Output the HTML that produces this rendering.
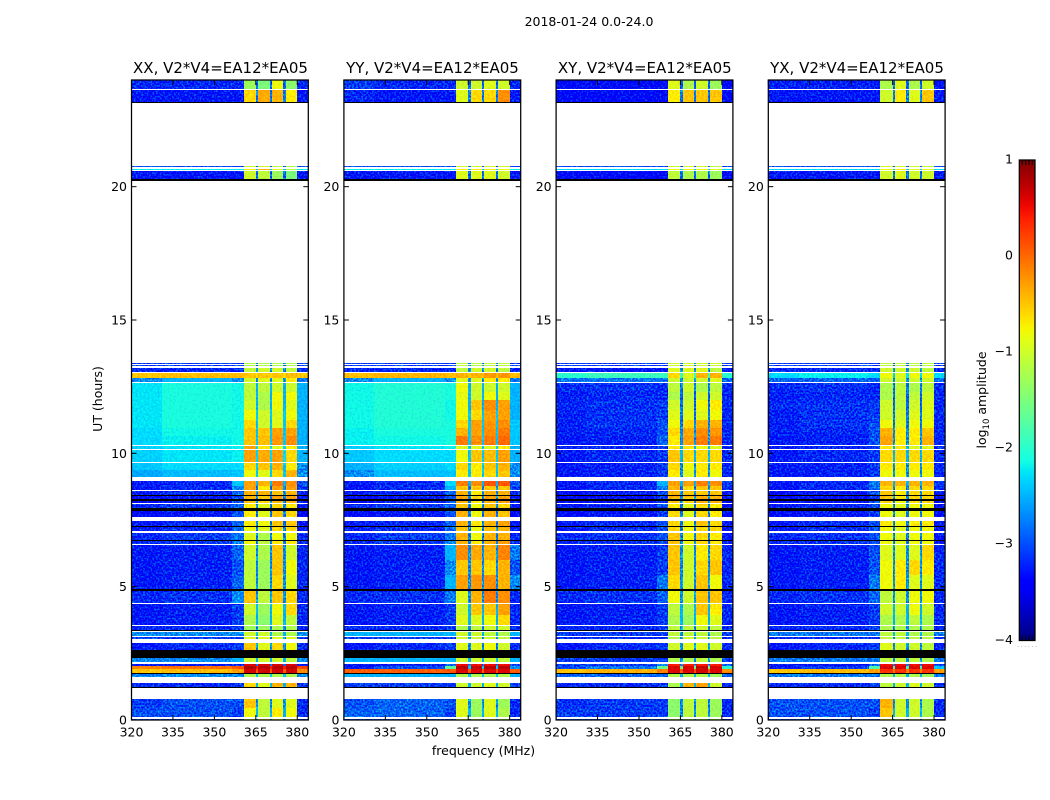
<!DOCTYPE html>
<html lang="en">
<head>
<meta charset="utf-8">
<title>2018-01-24 0.0-24.0</title>
<style>
html,body{margin:0;padding:0;background:#fff;}
svg{display:block;}
text{font-family:"DejaVu Sans","Liberation Sans",sans-serif;fill:#000;}
</style>
</head>
<body>
<svg id="fig" xmlns="http://www.w3.org/2000/svg" width="1050" height="800" viewBox="0 0 1050 800">
  <defs>
    <filter id="speckle" x="0" y="0" width="100%" height="100%" color-interpolation-filters="sRGB">
      <feTurbulence type="fractalNoise" baseFrequency="0.55" numOctaves="1" seed="7" result="t"/>
      <feColorMatrix in="t" type="matrix" values="0 0 0 0 0.5  3 0 0 0 -1.15  0 0 1.2 0 -0.1  0 0 0 0 1" result="n"/>
      <feComposite in="SourceGraphic" in2="n" operator="arithmetic" k1="0" k2="1" k3="0.55" k4="-0.275" result="c"/>
      <feComposite in="c" in2="SourceAlpha" operator="in"/>
    </filter>
    <filter id="softSpeckle" x="0" y="0" width="100%" height="100%" color-interpolation-filters="sRGB">
      <feTurbulence type="fractalNoise" baseFrequency="0.5" numOctaves="1" seed="3" result="t"/>
      <feColorMatrix in="t" type="matrix" values="0 0 0 0 0.5  3 0 0 0 -1  0 0 0 0 0.5  0 0 0 0 1" result="n"/>
      <feComposite in="SourceGraphic" in2="n" operator="arithmetic" k1="0" k2="1" k3="0.16" k4="-0.08" result="c"/>
      <feComposite in="c" in2="SourceAlpha" operator="in"/>
    </filter>
    <linearGradient id="jetGradient" x1="0" y1="1" x2="0" y2="0"></linearGradient>
  </defs>
  <text x="589" y="26" font-size="12.5" text-anchor="middle">2018-01-24 0.0-24.0</text>

  <g id="panel-xx"></g>
  <g id="panel-yy"></g>
  <g id="panel-xy"></g>
  <g id="panel-yx"></g>

  <text x="220.5" y="73" font-size="15" text-anchor="middle">XX, V2*V4=EA12*EA05</text>
  <text x="432.5" y="73" font-size="15" text-anchor="middle">YY, V2*V4=EA12*EA05</text>
  <text x="644.8" y="73" font-size="15" text-anchor="middle">XY, V2*V4=EA12*EA05</text>
  <text x="857" y="73" font-size="15" text-anchor="middle">YX, V2*V4=EA12*EA05</text>

  <text x="483.5" y="755" font-size="12.5" text-anchor="middle">frequency (MHz)</text>
  <text font-size="12.5" text-anchor="middle" transform="translate(102,399) rotate(-90)">UT (hours)</text>
  <text font-size="12.5" text-anchor="middle" transform="translate(986,400) rotate(-90)">log<tspan font-size="8.5" dy="3">10</tspan><tspan dy="-3"> amplitude</tspan></text>

  <g id="colorbar"></g>
  <text x="1017" y="647" font-size="6" letter-spacing="1.7" style="fill:#888">......</text>
</svg>

<script>
// ---- axis ticks ----
const xTicks = [320, 335, 350, 365, 380];
const yTicks = [0, 5, 10, 15, 20];
const colorbarTicks = [1, 0, -1, -2, -3, -4];

// ---- frequency column edges (MHz): left bg, mid bg, edge, band 1, notch, band 2, notch, band 3, notch, band 4, right bg ----
const freqEdges = [320, 331, 356.5, 360.6, 365, 365.9, 370, 370.8, 375, 375.8, 380, 384];

// ---- UT row edges (hours, top to bottom) ----
const utEdges = [24,23.681,23.625,23.175,23.119,20.775,20.719,20.681,20.625,20.569,20.306,20.269,20.213,
 13.376,13.339,13.301,13.264,13.2,13.039,13.001,12.836,12.686,12.638,12.3,12,11.625,11.25,10.95,10.65,10.313,
 10.264,10.163,10.125,9.664,9.626,9.375,9.124,8.963,8.775,8.625,8.576,8.453,8.415,8.269,8.231,8.149,8.1,
 7.939,7.838,7.624,7.463,7.275,7.238,7.106,7.001,6.75,6.713,6.6,6.563,6,5.438,4.92,4.84,4.399,4.361,3.938,
 3.563,3.525,3.375,3.326,3.289,3.15,3.113,3.049,2.899,2.625,2.325,2.164,2.1,2.025,1.894,1.751,1.714,1.624,
 1.388,1.226,1.189,0.799,0.45,0.113,0.038,0];

// d = data row, w = no data, k = flagged (black)
const rowKinds = "dwdkwdwdwdwkwdwdwdwddwdddddddwdwdwddwddwdkdkdwdkdwdkdwdkdwdddkdwddwdkwdwdwdkdwdddkdwdkwddwd".split("");

// ---- log10 amplitude for each data row ----
// columns: left bg, mid bg, edge, band1, band2, band3, band4, right bg, notch
const xxValues = [
[-3.1,-3.1,-3.1,-1.3,-1.5,-.8,-1.4,-3.1,-2.8],
[-3.2,-3.2,-3.2,-.6,-.35,-.4,-.7,-3.2,-2.7],
[-2.9,-2.9,-2.9,-1,-1,-1.1,-1.2,-2.9,-2.8],
[-2.2,-2.2,-2.2,-.7,-.4,-.9,-1.1,-2.2,-2.4],
[-3.2,-3.2,-3.2,-1,-1.1,-1.3,-1.5,-3.2,-2.8],
[-3,-3,-3,-1.2,-1.2,-1.2,-1.2,-3,-2.7],
[-3,-3,-3,-1.2,-1.2,-1.2,-1.2,-3,-2.7],
[-3.1,-3.1,-3.1,-1.1,-1,-1,-1.1,-3.1,-2.6],
[-.5,-.45,-.45,-.5,-.5,-.5,-.45,-.5,-.6],
[-2.6,-2.5,-2.6,-1,-.9,-.9,-.7,-2.7,-2.6],
[-2.25,-2.1,-2.15,-1.1,-1.1,-1,-1,-2.5,-2.5],
[-2.25,-2.1,-2.15,-1.1,-1.2,-.8,-.8,-2.5,-2.5],
[-2.25,-2.1,-2.15,-1,-1.2,-.8,-.9,-2.5,-2.5],
[-2.25,-2.1,-2.15,-.8,-1,-.9,-.8,-2.5,-2.4],
[-2.25,-2.1,-2.15,-.6,-1,-.9,-.6,-2.5,-2.4],
[-2.3,-2.15,-2.15,-.5,-.5,-.3,-.3,-2.5,-2.4],
[-2.3,-2.2,-2.15,-.5,-.45,-.25,-.2,-2.5,-2.4],
[-2.35,-2.25,-2.2,-.3,-.7,-.9,-.7,-2.5,-2.3],
[-2.35,-2.25,-2.2,-.3,-.35,-.3,-.6,-2.5,-2.3],
[-2.4,-2.3,-2.3,-.6,-.5,-.4,-.7,-2.6,-2.4],
[-2.55,-2.45,-2.4,-.8,-.9,-.6,-.4,-2.6,-2.4],
[-3.2,-3.1,-2.4,-.3,-.4,-.1,-.2,-2.9,-2.5],
[-3.2,-3.1,-2.6,-.3,-.7,-.3,-.3,-3,-2.7],
[-3.2,-3.1,-2.8,-.4,-.4,-.5,-.4,-3.1,-2.6],
[-3.3,-3.2,-2.9,-.4,-.5,-.3,-.3,-3.2,-2.6],
[-3.3,-3.2,-2.9,-.5,-.6,-.4,-.4,-3.2,-2.6],
[-3.1,-3,-2.8,-.7,-.9,-.6,-.7,-3.2,-2.7],
[-3.3,-3.2,-2.9,-.7,-.9,-.5,-.6,-3.3,-2.7],
[-3.2,-3.1,-2.8,-.7,-.8,-.5,-.5,-3.2,-2.7],
[-3.2,-3.1,-2.8,-.8,-.9,-.6,-.6,-3.2,-2.7],
[-3.1,-3,-2.7,-.9,-1.2,-.8,-.8,-3.1,-2.7],
[-3.1,-3,-2.7,-.8,-1.1,-.7,-.7,-3.1,-2.7],
[-3.2,-3.15,-2.8,-1,-1.2,-.5,-1,-3.1,-2.6],
[-3.2,-3.15,-2.9,-1.1,-1.3,-.5,-.8,-3.1,-2.6],
[-3.2,-3.15,-2.8,-1.1,-1.3,-.6,-.9,-3.1,-2.6],
[-3.1,-3.05,-2.6,-.5,-1.1,-.5,-.6,-3.1,-2.6],
[-3.2,-3.15,-3,-1,-1.3,-.8,-.6,-3.1,-2.5],
[-3.2,-3.15,-3,-1.2,-1.4,-.9,-1.1,-3.1,-2.5],
[-3.1,-3.1,-3,-1.3,-1.3,-1.2,-1.2,-3.1,-2.6],
[-2.6,-2.6,-2.6,-1,-1,-1.2,-1.2,-2.6,-2.5],
[-3,-3,-3,-.9,-.9,-.9,-.9,-3,-2.6],
[-3.2,-3.1,-3,-.5,-.9,-.6,-.8,-3.1,-2.6],
[-2.6,-2.6,-2.5,-1,-1,-1,-1.1,-2.6,-2.5],
[-3.2,-3.2,-3.1,.6,.6,.6,.6,-3.2,-2.7],
[-.15,-.05,.1,.8,.75,.75,.75,.2,.4],
[-.5,-.45,-.3,.65,.65,.65,.65,-.2,.1],
[-2.6,-2.6,-2.6,-1.2,-1.2,-1.2,-1.2,-2.6,-2.4],
[-3.1,-3.1,-3,-.6,-.9,-.4,-.4,-3,-2.5],
[-3,-2.9,-2.9,-.5,-1.1,-.9,-.9,-3.1,-2.6],
[-2.9,-2.9,-3,-.8,-1.1,-.7,-.8,-3.1,-2.5],
[-2.9,-2.9,-2.9,-1,-1,-1,-1,-3,-2.7]
];

const yyValues = [
[-3,-3.1,-3.1,-1,-1,-.9,-1,-3.1,-2.8],
[-3.1,-3.2,-3.2,-.9,-.6,-.6,-.2,-3.2,-2.7],
[-2.9,-2.9,-2.9,-1,-1,-1,-1,-2.9,-2.8],
[-2.2,-2.2,-2.2,-.7,-.7,-.7,-.8,-2.2,-2.4],
[-3.2,-3.2,-3.2,-.9,-.9,-.9,-1,-3.2,-2.8],
[-3,-3,-3,-1.1,-1.1,-1.1,-1.1,-3,-2.7],
[-3,-3,-3,-1.1,-1.1,-1.1,-1.1,-3,-2.7],
[-3.1,-3.1,-3.1,-1.1,-1,-1,-1.1,-3.1,-2.6],
[-.45,-.4,-.45,-.4,-.4,-.25,-.25,-.45,-.5],
[-2.6,-2.5,-2.6,-.9,-.9,-.7,-.7,-2.7,-2.6],
[-2.15,-2.05,-2.1,-.8,-1,-1,-1,-2.5,-2.5],
[-2.15,-2.05,-2.1,-.85,-1,-.8,-.9,-2.5,-2.5],
[-2.15,-2.05,-2.15,-.8,-.5,-.2,-.3,-2.5,-2.5],
[-2.15,-2.05,-2.15,-.8,-.6,-.3,-.3,-2.5,-2.4],
[-2.15,-2.05,-2.1,-.6,-.3,-.25,-.2,-2.4,-2.4],
[-2.2,-2.1,-2.1,-.4,-.3,-.2,-.1,-2.4,-2.4],
[-2.2,-2.15,-2.1,-.1,-.2,-.1,0,-2.4,-2.4],
[-2.35,-2.25,-2.2,-.9,-.9,-.9,-.7,-2.5,-2.4],
[-2.4,-2.3,-2.3,-.8,-.5,-.45,-.3,-2.5,-2.4],
[-2.5,-2.35,-2.3,-.6,-.7,-.5,-.4,-2.6,-2.4],
[-2.6,-2.45,-2.4,-.7,-.7,-.6,-.5,-2.6,-2.4],
[-3.2,-3.1,-2.3,-.1,-.2,.1,.1,-2.9,-2.5],
[-3.2,-3.1,-2.5,-.5,-.5,-.5,-.5,-3,-2.7],
[-3.2,-3.1,-2.8,-.4,-.7,-.4,-.4,-3.1,-2.6],
[-3.3,-3.2,-2.9,-.3,-.6,-.3,-.3,-3.2,-2.6],
[-3.3,-3.2,-2.9,-.4,-.7,-.4,-.3,-3.2,-2.6],
[-3.1,-3,-2.8,-.5,-.8,-.5,-.6,-3.2,-2.7],
[-3.3,-3.2,-2.9,-.4,-.8,-.4,-.5,-3.3,-2.7],
[-3.2,-3.1,-2.8,-.4,-.7,-.4,-.3,-3.2,-2.7],
[-3.2,-3.1,-2.8,-.5,-.8,-.5,-.4,-3.2,-2.7],
[-3.1,-3,-2.7,-.4,-.8,-.4,-.4,-3.1,-2.7],
[-3.1,-3,-2.6,-.4,-.7,-.4,-.3,-3.1,-2.7],
[-3.2,-3.15,-2.5,-.2,-.35,-.4,-.15,-2.7,-2.6],
[-3.2,-3.15,-2.6,-.5,-.5,-.6,-.4,-2.9,-2.6],
[-3.2,-3.15,-2.5,-.3,-.25,-.2,-.4,-2.6,-2.6],
[-3.1,-3.05,-2.7,-.9,-.4,-.1,-.2,-3.1,-2.6],
[-3.2,-3.15,-3,-1,-.5,-.5,-.3,-3.1,-2.5],
[-3.2,-3.15,-3,-.9,-.9,-.8,-.6,-3.1,-2.5],
[-3.1,-3.1,-3,-1.2,-1.1,-1,-1,-3.1,-2.6],
[-2.5,-2.5,-2.5,-1,-1,-1.1,-1.2,-2.5,-2.5],
[-3,-3,-3,-1,-1,-1,-1.1,-3,-2.6],
[-3.2,-3.1,-3,-.9,-.9,-.8,-1,-3.1,-2.6],
[-2.5,-2.5,-2.5,-1,-1,-1,-1.1,-2.5,-2.5],
[-3.2,-3.2,-2.8,.5,.5,.5,.5,-3,-2.7],
[-3.2,-2.9,-1.7,.75,.7,.75,.75,-2.6,-2.4],
[.05,.05,.1,.6,.6,.6,.6,.05,.1],
[-2.5,-2.5,-2.5,-1.2,-1.2,-1.2,-1.2,-2.5,-2.4],
[-3,-3,-3,-1,-1,-.9,-1,-3,-2.5],
[-2.9,-2.8,-2.9,-.9,-1.3,-.9,-1.3,-3.1,-2.6],
[-2.8,-2.8,-3,-.9,-1.3,-.9,-1.2,-3.1,-2.5],
[-2.9,-2.9,-2.9,-1,-1.2,-1,-1.2,-3,-2.7]
];

const xyValues = [
[-3.3,-3.3,-3.3,-.9,-1.2,-1,-1.3,-3.3,-2.8],
[-3.3,-3.3,-3.3,-.7,-.5,-.5,-.5,-3.3,-2.7],
[-2.9,-2.9,-2.9,-1,-1,-1,-1.1,-2.9,-2.8],
[-2.3,-2.3,-2.3,-.8,-.8,-.8,-.9,-2.3,-2.4],
[-3.3,-3.3,-3.3,-1.1,-1.2,-1.2,-1.3,-3.3,-2.8],
[-3,-3,-3,-1,-1,-1,-1,-3,-2.7],
[-3,-3,-3,-1,-1,-1,-1,-3,-2.7],
[-3.2,-3.2,-3.2,-.9,-.9,-.9,-1.1,-3.2,-2.6],
[-2,-1.9,-1.9,-.6,-.9,-.4,-.4,-2,-1.9],
[-2.7,-2.7,-2.7,-1,-1,-1,-.9,-2.8,-2.6],
[-3.1,-3.05,-3.1,-1.1,-1,-1.2,-1.1,-3.1,-2.7],
[-3.15,-3.1,-3.1,-1.2,-1.1,-1,-1,-3.1,-2.8],
[-3.1,-3.05,-3,-1,-1,-.8,-.7,-3.1,-2.8],
[-3.15,-3.05,-3,-.9,-.9,-.9,-.8,-3.1,-2.7],
[-3.15,-3.05,-2.9,-.8,-.6,-.4,-.4,-3.1,-2.7],
[-3.15,-3.1,-2.9,-.6,-.35,-.2,-.25,-3.1,-2.6],
[-3.2,-3.15,-2.8,-.7,-.3,-.1,-.1,-3.1,-2.6],
[-3.15,-3.1,-3,-.7,-.7,-.8,-.9,-3.1,-2.5],
[-3.2,-3.1,-3,-.5,-.6,-.6,-.6,-3.1,-2.5],
[-3.2,-3.15,-3,-.6,-.8,-.7,-.7,-3.1,-2.6],
[-3.2,-3.15,-3,-.7,-.9,-.7,-.8,-3.1,-2.6],
[-3.2,-3.1,-2.5,-.3,-.3,-.1,-.2,-3,-2.5],
[-3.25,-3.1,-2.7,-.4,-.6,-.5,-.5,-3.1,-2.7],
[-3.3,-3.2,-2.9,-.4,-.5,-.5,-.5,-3.2,-2.6],
[-3.3,-3.25,-3,-.4,-.5,-.4,-.4,-3.3,-2.6],
[-3.3,-3.25,-3,-.5,-.6,-.4,-.4,-3.3,-2.6],
[-3.2,-3.1,-2.9,-.7,-.9,-.6,-.7,-3.3,-2.7],
[-3.3,-3.2,-3,-.6,-.9,-.6,-.7,-3.3,-2.7],
[-3.2,-3.1,-2.9,-.6,-.8,-.5,-.6,-3.2,-2.7],
[-3.2,-3.1,-2.9,-.6,-.8,-.6,-.6,-3.2,-2.7],
[-3.1,-3.05,-2.9,-.5,-.8,-.6,-.7,-3.2,-2.7],
[-3.1,-3.05,-2.9,-.5,-.8,-.6,-.7,-3.2,-2.7],
[-3.2,-3.15,-3,-.5,-1,-.7,-.6,-3.1,-2.6],
[-3.2,-3.15,-3,-.5,-1,-.6,-.5,-3.1,-2.6],
[-3.2,-3.15,-2.7,-.6,-1,-.5,-.8,-3.1,-2.6],
[-3.1,-3.05,-2.8,-.8,-1,-.5,-.5,-3.1,-2.6],
[-3.2,-3.15,-3,-1.1,-1.2,-.5,-.7,-3.1,-2.5],
[-3.2,-3.15,-3,-1.2,-1.3,-.8,-.9,-3.1,-2.5],
[-3.1,-3.1,-3,-1.1,-1.1,-1,-1.1,-3.1,-2.6],
[-3,-3,-3,-1.1,-1.1,-1.1,-1.2,-3,-2.6],
[-3.1,-3.1,-3.1,-1.2,-1,-1,-1.1,-3.1,-2.6],
[-3.2,-3.1,-3,-1,-.9,-.9,-1,-3.1,-2.6],
[-3,-3,-3,-1.2,-1.2,-1.1,-1.2,-3,-2.6],
[-3,-3,-2.6,.4,.4,.4,.4,-2.8,-2.6],
[-2.9,-2.7,-1.6,.6,.6,.7,.6,-2,-1.6],
[-.5,-.4,-.1,.6,.6,.65,.6,-.2,.1],
[-2.8,-2.8,-2.8,-1.2,-1.2,-1.2,-1.3,-2.8,-2.5],
[-3.1,-3.1,-3,-1.2,-.4,-.3,-1,-3.1,-2.5],
[-3.05,-3,-3,-1.4,-1.1,-1.1,-1.3,-3.1,-2.7],
[-3,-3,-3,-1.4,-1.1,-1.1,-1.3,-3.1,-2.6],
[-2.9,-2.9,-2.9,-1.2,-1.2,-1.2,-1.2,-3,-2.7]
];

const yxValues = [
[-3.15,-3.15,-3.15,-1.2,-.9,-1.2,-1,-3.2,-2.8],
[-3.2,-3.2,-3.2,-1,-.7,-.9,-.5,-3.2,-2.7],
[-2.9,-2.9,-2.9,-1,-1,-1,-1.1,-2.9,-2.8],
[-2.3,-2.3,-2.3,-.8,-.7,-.9,-.9,-2.3,-2.4],
[-3.2,-3.2,-3.2,-1,-.9,-1,-1,-3.2,-2.8],
[-3,-3,-3,-1.1,-1.1,-1.1,-1.1,-3,-2.7],
[-3,-3,-3,-1.1,-1.1,-1.1,-1.1,-3,-2.7],
[-3.1,-3.1,-3.1,-1,-1,-1,-1.1,-3.1,-2.6],
[-2.3,-2.2,-2.3,-.8,-.9,-.8,-.8,-2.3,-2.3],
[-2.8,-2.8,-2.8,-1,-1,-1,-1,-2.8,-2.6],
[-3.1,-3.05,-3.1,-1.2,-1.1,-1.2,-1.1,-3.1,-2.7],
[-3.15,-3.1,-3.1,-1.2,-1.1,-1.1,-1,-3.1,-2.8],
[-3.1,-3.05,-3,-1,-1.1,-1,-.9,-3.1,-2.8],
[-3.15,-3.05,-3,-1,-1,-.9,-.9,-3.1,-2.7],
[-3.15,-3.05,-2.9,-.8,-.9,-.8,-.8,-3.1,-2.7],
[-3.15,-3.1,-2.9,-.4,-.7,-.7,-.5,-3.1,-2.6],
[-3.2,-3.15,-2.9,-.3,-.7,-.7,-.4,-3.1,-2.6],
[-3.15,-3.1,-3,-.7,-.7,-.9,-.9,-3.1,-2.5],
[-3.2,-3.1,-3,-.6,-.6,-.6,-.6,-3.1,-2.5],
[-3.2,-3.15,-3,-.7,-.7,-.7,-.7,-3.1,-2.6],
[-3.2,-3.15,-3,-.8,-.8,-.8,-.8,-3.1,-2.6],
[-3.2,-3.1,-2.7,-.4,-.4,-.4,-.4,-3,-2.5],
[-3.25,-3.1,-2.8,-.6,-.7,-.6,-.6,-3.1,-2.7],
[-3.3,-3.2,-2.9,-.5,-.7,-.6,-.6,-3.2,-2.6],
[-3.3,-3.25,-3,-.5,-.7,-.6,-.6,-3.3,-2.6],
[-3.3,-3.25,-3,-.6,-.8,-.6,-.6,-3.3,-2.6],
[-3.2,-3.1,-2.9,-.8,-.9,-.8,-.8,-3.3,-2.7],
[-3.3,-3.2,-3,-.8,-.9,-.8,-.8,-3.3,-2.7],
[-3.2,-3.1,-2.9,-.7,-.8,-.7,-.7,-3.2,-2.7],
[-3.2,-3.1,-2.9,-.8,-.9,-.8,-.8,-3.2,-2.7],
[-3.1,-3.05,-2.9,-.8,-.9,-.8,-.8,-3.2,-2.7],
[-3.1,-3.05,-2.9,-.8,-.9,-.8,-.8,-3.2,-2.7],
[-3.2,-3.15,-2.9,-.9,-.9,-.9,-.6,-3.1,-2.6],
[-3.2,-3.15,-2.9,-.8,-.7,-.6,-.7,-3.1,-2.6],
[-3.2,-3.15,-2.7,-.8,-.7,-.9,-.9,-3.1,-2.6],
[-3.1,-3.05,-2.8,-1.1,-1,-.8,-.8,-3.1,-2.6],
[-3.2,-3.15,-3,-1,-1,-.8,-1,-3.1,-2.5],
[-3.2,-3.15,-3,-1.2,-1.2,-1.1,-1.2,-3.1,-2.5],
[-3.1,-3.1,-3,-1.2,-1.2,-1.2,-1.2,-3.1,-2.6],
[-2.7,-2.7,-2.7,-1.1,-1.1,-1.2,-1.2,-2.7,-2.5],
[-3.1,-3.1,-3.1,-1.1,-1.1,-1.1,-1.1,-3.1,-2.6],
[-3.2,-3.1,-3,-.9,-1,-1,-1.1,-3.1,-2.6],
[-2.7,-2.7,-2.7,-1.1,-1.1,-1.1,-1.2,-2.7,-2.6],
[-3.2,-3.2,-2.8,.5,.5,.5,.5,-3,-2.7],
[-3.2,-3,-1.8,.6,.6,.6,.6,-2.4,-1.9],
[-.5,-.45,-.3,.3,.3,.3,.3,-.3,-.1],
[-2.7,-2.7,-2.7,-1.2,-1.2,-1.2,-1.3,-2.7,-2.5],
[-3.1,-3.1,-3,-1.1,-1,-.9,-1,-3.1,-2.5],
[-2.9,-2.9,-2.9,-.4,-1,-1,-1.2,-3.1,-2.6],
[-2.9,-2.9,-3,-.5,-1,-1,-1.2,-3.1,-2.5],
[-2.9,-2.9,-2.9,-.8,-1.1,-1.1,-1.1,-3,-2.7]
];

// ---- geometry ----
const SVGNS = "http://www.w3.org/2000/svg";
const panelIds = ["panel-xx", "panel-yy", "panel-xy", "panel-yx"];
const panelLefts = [131.5, 343.9, 556.1, 768.3];
const panelSeries = [xxValues, yyValues, xyValues, yxValues];
const panelW = 176.8, plotTop = 80, plotBottom = 720;
const X_MIN = 320, X_MAX = 384, Y_MIN = 0, Y_MAX = 24;
const CB_MIN = -4, CB_MAX = 1, cbX = 1019.3, cbW = 15.7, cbTop = 160, cbBottom = 640.5;

function xScale(mhz, left) { return left + (mhz - X_MIN) / (X_MAX - X_MIN) * panelW; }
function yScale(h) { return plotBottom - (h - Y_MIN) / (Y_MAX - Y_MIN) * (plotBottom - plotTop); }
function cbScale(v) { return cbBottom - (v - CB_MIN) / (CB_MAX - CB_MIN) * (cbBottom - cbTop); }

function seg(t, pts) {
  for (let i = 1; i < pts.length; i++) {
    if (t <= pts[i][0]) {
      const a = pts[i - 1], b = pts[i];
      return a[1] + (b[1] - a[1]) * (t - a[0]) / (b[0] - a[0]);
    }
  }
  return pts[pts.length - 1][1];
}
function jet(v) {
  const t = Math.max(0, Math.min(1, (v - CB_MIN) / (CB_MAX - CB_MIN)));
  const r = seg(t, [[0,0],[.35,0],[.66,1],[.89,1],[1,.5]]);
  const g = seg(t, [[0,0],[.125,0],[.375,1],[.64,1],[.91,0],[1,0]]);
  const b = seg(t, [[0,.5],[.11,1],[.34,1],[.65,0],[1,0]]);
  return "rgb(" + Math.round(r*255) + "," + Math.round(g*255) + "," + Math.round(b*255) + ")";
}
function make(tag, attrs, parent) {
  const e = document.createElementNS(SVGNS, tag);
  for (const k in attrs) e.setAttribute(k, attrs[k]);
  parent.appendChild(e);
  return e;
}

// maps 11 freq columns to the value-row layout
const columnToValue = [0, 1, 2, 3, 8, 4, 8, 5, 8, 6, 7];

panelIds.forEach(function (id, p) {
  const g = document.getElementById(id);
  const left = panelLefts[p];
  const series = panelSeries[p];
  const noisy = make("g", { filter: "url(#speckle)" }, g);
  
  
  const plain = make("g", { filter: "url(#softSpeckle)" }, g);
  
  
  const flagged = make("g", {}, g);
  
  
  let di = 0;
  rowKinds.forEach(function (kind, r) {
    if (kind === "w") return;
    const y0 = Math.round(yScale(utEdges[r])), y1 = Math.round(yScale(utEdges[r + 1]));
    if (kind === "k") {
      const band = make("rect", { x: left, y: y0, width: panelW, height: Math.max(1, y1 - y0), fill: "#000", "shape-rendering": "crispEdges" }, flagged);
      
      
      return;
    }
    const row = series[di++];
    for (let c = 0; c < freqEdges.length - 1; c++) {
      const v = row[columnToValue[c]];
      const x0 = Math.round(xScale(freqEdges[c], left)), x1 = Math.round(xScale(freqEdges[c + 1], left));
      const cell = make("rect", { x: x0, y: y0, width: x1 - x0, height: Math.max(1, y1 - y0), fill: jet(v), "shape-rendering": "crispEdges" }, v < -2.55 ? noisy : plain);
      
      
    }
  });

  xTicks.forEach(function (t) {
    const x = xScale(t, left);
    const b = make("line", { x1: x, x2: x, y1: plotBottom, y2: plotBottom - 5, stroke: "#000", "stroke-width": 1 }, g);
    
    
    const u = make("line", { x1: x, x2: x, y1: plotTop, y2: plotTop + 5, stroke: "#000", "stroke-width": 1 }, g);
    
    
    const l = make("text", { x: x, y: 736.5, "font-size": 12.5, "text-anchor": "middle" }, g);
    
    
    l.textContent = String(t);
  });
  yTicks.forEach(function (t) {
    const y = yScale(t);
    const a = make("line", { x1: left, x2: left + 5, y1: y, y2: y, stroke: "#000", "stroke-width": 1 }, g);
    
    
    const b = make("line", { x1: left + panelW, x2: left + panelW - 5, y1: y, y2: y, stroke: "#000", "stroke-width": 1 }, g);
    
    
    const l = make("text", { x: left - 4.5, y: y + 4.5, "font-size": 12.5, "text-anchor": "end" }, g);
    
    
    l.textContent = String(t);
  });
  const frame = make("rect", { x: left, y: plotTop, width: panelW, height: plotBottom - plotTop, fill: "none", stroke: "#000", "stroke-width": 1.25 }, g);
  
  
});

// ---- colorbar ----
const gradient = document.getElementById("jetGradient");
for (let i = 0; i <= 40; i++) {
  const v = CB_MIN + (CB_MAX - CB_MIN) * i / 40;
  make("stop", { offset: (i / 40), "stop-color": jet(v) }, gradient);
}
const cb = document.getElementById("colorbar");
const cbFill = make("rect", { x: cbX, y: cbTop, width: cbW, height: cbBottom - cbTop, fill: "url(#jetGradient)" }, cb);


[1022.3, 1025.7, 1029, 1032.3].forEach(function (x) {
  const a = make("line", { x1: x, x2: x, y1: cbTop, y2: cbTop + 5, stroke: "#000", "stroke-width": 1 }, cb);
  
  
  const b = make("line", { x1: x, x2: x, y1: cbBottom, y2: cbBottom - 5, stroke: "#000", "stroke-width": 1 }, cb);
  
  
});
const cbFrame = make("rect", { x: cbX, y: cbTop, width: cbW, height: cbBottom - cbTop, fill: "none", stroke: "#000", "stroke-width": 1.25 }, cb);


colorbarTicks.forEach(function (t) {
  const l = make("text", { x: 1013, y: cbScale(t) + 3.3, "font-size": 12.5, "text-anchor": "end" }, cb);
  
  
  l.textContent = t < 0 ? "\u2212" + Math.abs(t) : String(t);
});
</script>
</body>
</html>
